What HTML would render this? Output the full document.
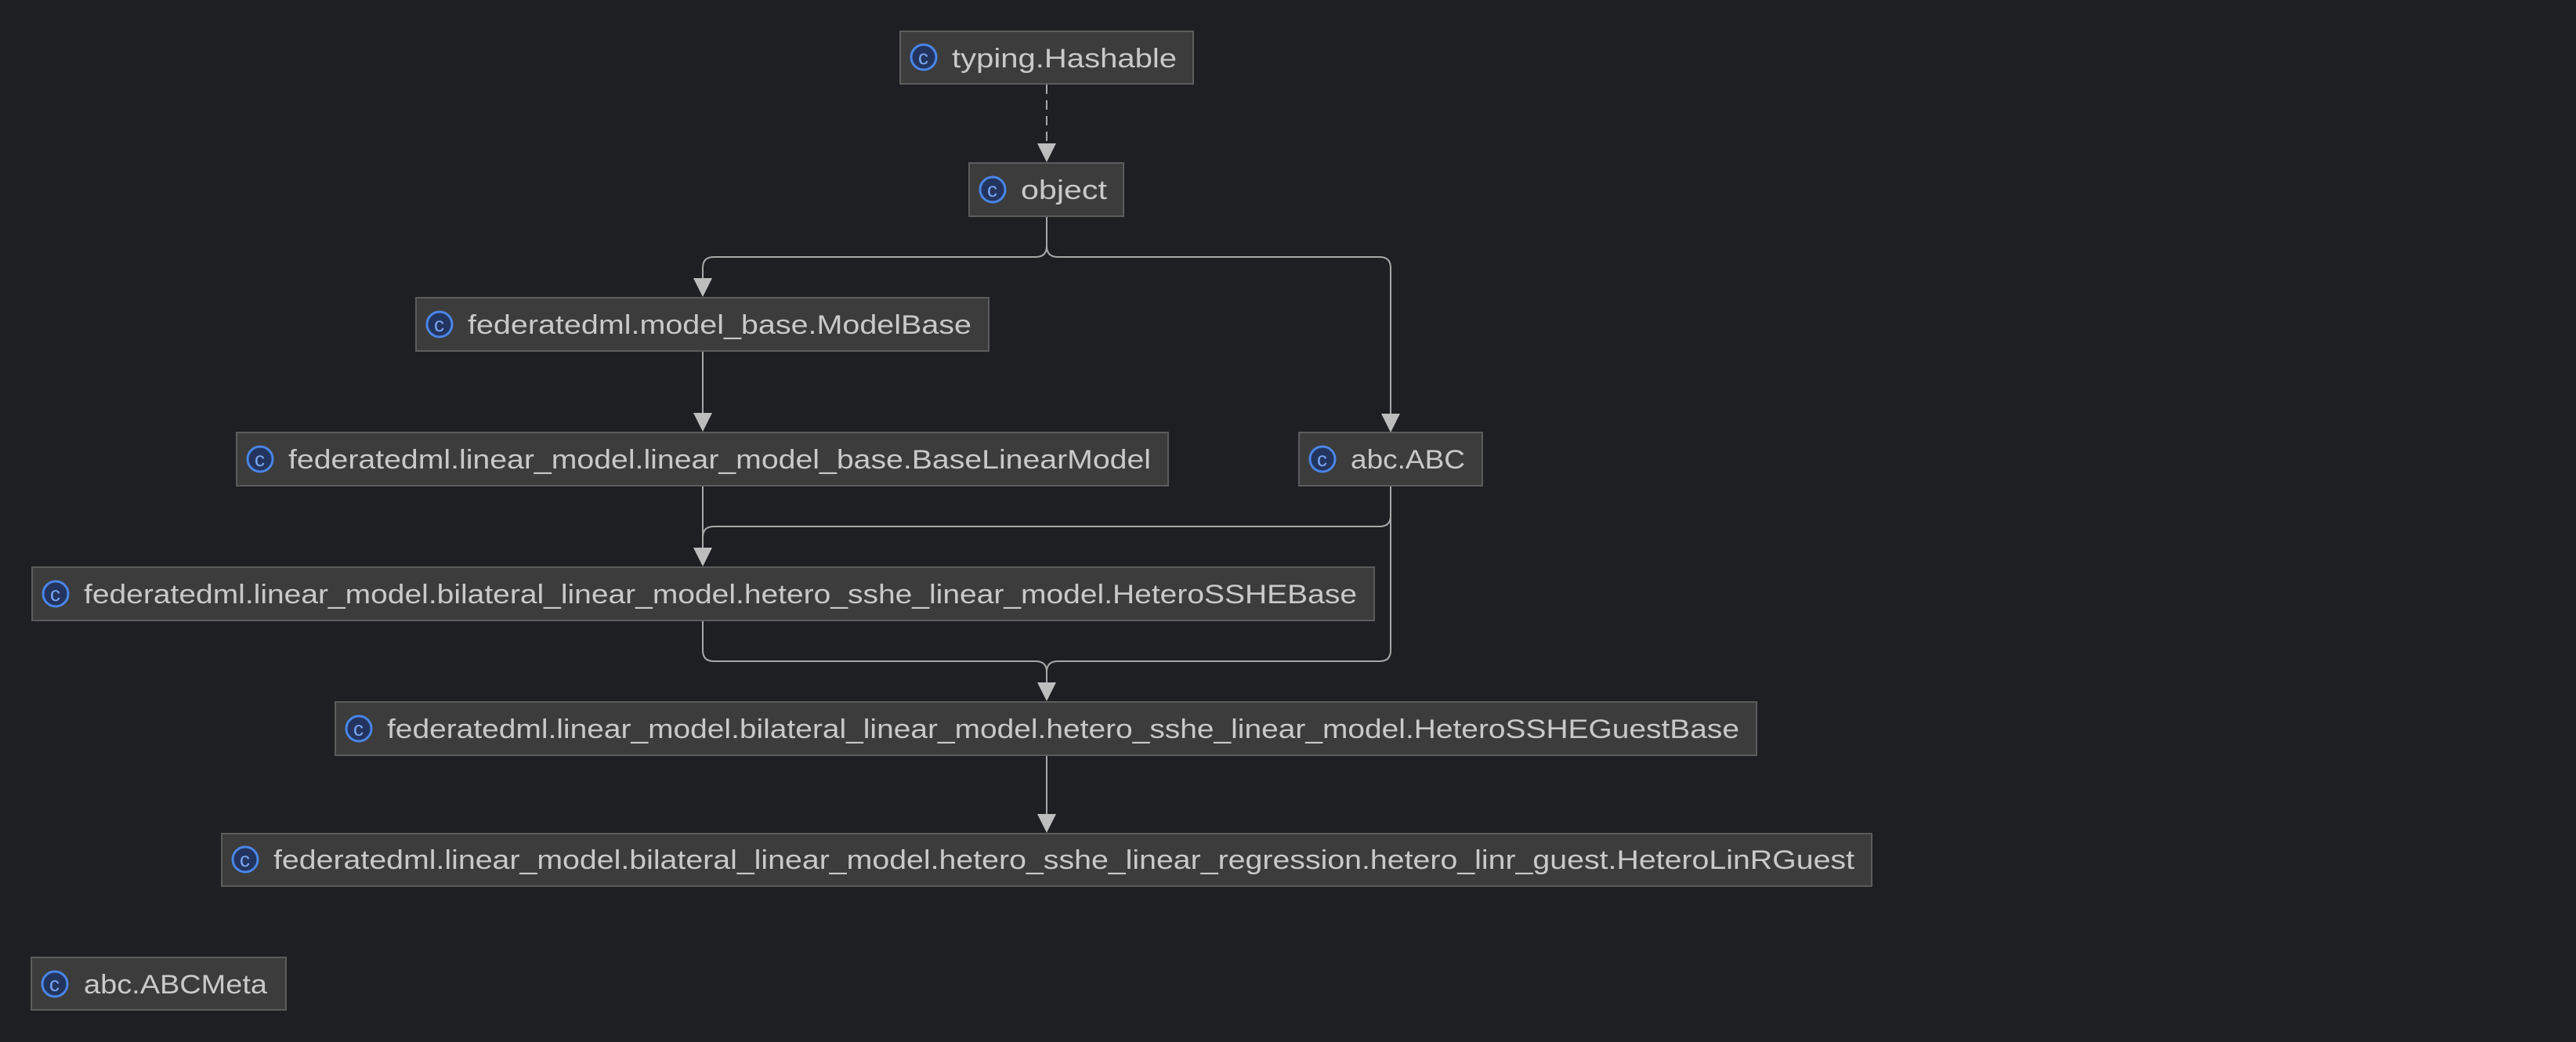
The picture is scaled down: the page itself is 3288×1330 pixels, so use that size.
<!DOCTYPE html>
<html><head><meta charset="utf-8"><style>
html,body{margin:0;padding:0;background:#1e1f22;}
svg{display:block}
text{font-family:"Liberation Sans",sans-serif;fill:#c9c9c9;font-size:34px}
.ic{fill:#7aa8f5;font-size:26px}
</style></head><body>
<svg width="3288" height="1330" viewBox="0 0 3288 1330" xmlns="http://www.w3.org/2000/svg">
<rect width="3288" height="1330" fill="#1e1f22"/>
<g fill="none" stroke="#a8a8a8" stroke-width="2">
<path d="M1336 108 V184" stroke-dasharray="12,8"/>
<path d="M1336 276 V314 Q1336 328 1322 328 H911 Q897 328 897 342 V360"/>
<path d="M1336 314 Q1336 328 1350 328 H1761 Q1775 328 1775 342 V530"/>
<path d="M897 448 V530"/>
<path d="M897 620 V700"/>
<path d="M1775 620 V658 Q1775 672 1761 672 H911 Q897 672 897 686"/>
<path d="M1775 658 V830 Q1775 844 1761 844 H1350 Q1336 844 1336 858 V872"/>
<path d="M897 792 V830 Q897 844 911 844 H1322 Q1336 844 1336 858"/>
<path d="M1336 964 V1040"/>
</g>
<g fill="#bdbdbd">
<path d="M1324 183 L1348 183 L1336 207 Z"/>
<path d="M885 355 L909 355 L897 379 Z"/>
<path d="M885 527 L909 527 L897 551 Z"/>
<path d="M1763 528 L1787 528 L1775 552 Z"/>
<path d="M885 699 L909 699 L897 723 Z"/>
<path d="M1324 871 L1348 871 L1336 895 Z"/>
<path d="M1324 1039 L1348 1039 L1336 1063 Z"/>
</g>
<g stroke="#5c5c5c" stroke-width="2" fill="#3c3c3c">
<rect x="1149" y="40" width="374" height="67"/>
<rect x="1237" y="208" width="197" height="68"/>
<rect x="531" y="380" width="731" height="68"/>
<rect x="302" y="552" width="1189" height="68"/>
<rect x="1658" y="552" width="234" height="68"/>
<rect x="41" y="724" width="1713" height="68"/>
<rect x="428" y="896" width="1814" height="68"/>
<rect x="283" y="1064" width="2106" height="67"/>
<rect x="40" y="1222" width="325" height="67"/>
</g>
<g stroke="#4a86e8" stroke-width="3" fill="#23345e">
<circle cx="1179" cy="73" r="16"/>
<circle cx="1267" cy="242" r="16"/>
<circle cx="561" cy="414" r="16"/>
<circle cx="332" cy="586" r="16"/>
<circle cx="1688" cy="586" r="16"/>
<circle cx="71" cy="758" r="16"/>
<circle cx="458" cy="930" r="16"/>
<circle cx="313" cy="1097" r="16"/>
<circle cx="70" cy="1256" r="16"/>
</g>
<text class="ic" x="1172" y="82">c</text>
<text class="ic" x="1260" y="251">c</text>
<text class="ic" x="554" y="423">c</text>
<text class="ic" x="325" y="595">c</text>
<text class="ic" x="1681" y="595">c</text>
<text class="ic" x="64" y="767">c</text>
<text class="ic" x="451" y="939">c</text>
<text class="ic" x="306" y="1106">c</text>
<text class="ic" x="63" y="1265">c</text>
<text x="1215" y="86" textLength="287" lengthAdjust="spacingAndGlyphs">typing.Hashable</text>
<text x="1303" y="254" textLength="110" lengthAdjust="spacingAndGlyphs">object</text>
<text x="597" y="426" textLength="643" lengthAdjust="spacingAndGlyphs">federatedml.model_base.ModelBase</text>
<text x="368" y="598" textLength="1101" lengthAdjust="spacingAndGlyphs">federatedml.linear_model.linear_model_base.BaseLinearModel</text>
<text x="1724" y="598" textLength="146" lengthAdjust="spacingAndGlyphs">abc.ABC</text>
<text x="107" y="770" textLength="1625" lengthAdjust="spacingAndGlyphs">federatedml.linear_model.bilateral_linear_model.hetero_sshe_linear_model.HeteroSSHEBase</text>
<text x="494" y="942" textLength="1726" lengthAdjust="spacingAndGlyphs">federatedml.linear_model.bilateral_linear_model.hetero_sshe_linear_model.HeteroSSHEGuestBase</text>
<text x="349" y="1109" textLength="2018" lengthAdjust="spacingAndGlyphs">federatedml.linear_model.bilateral_linear_model.hetero_sshe_linear_regression.hetero_linr_guest.HeteroLinRGuest</text>
<text x="107" y="1268" textLength="234" lengthAdjust="spacingAndGlyphs">abc.ABCMeta</text>
</svg>
</body></html>
